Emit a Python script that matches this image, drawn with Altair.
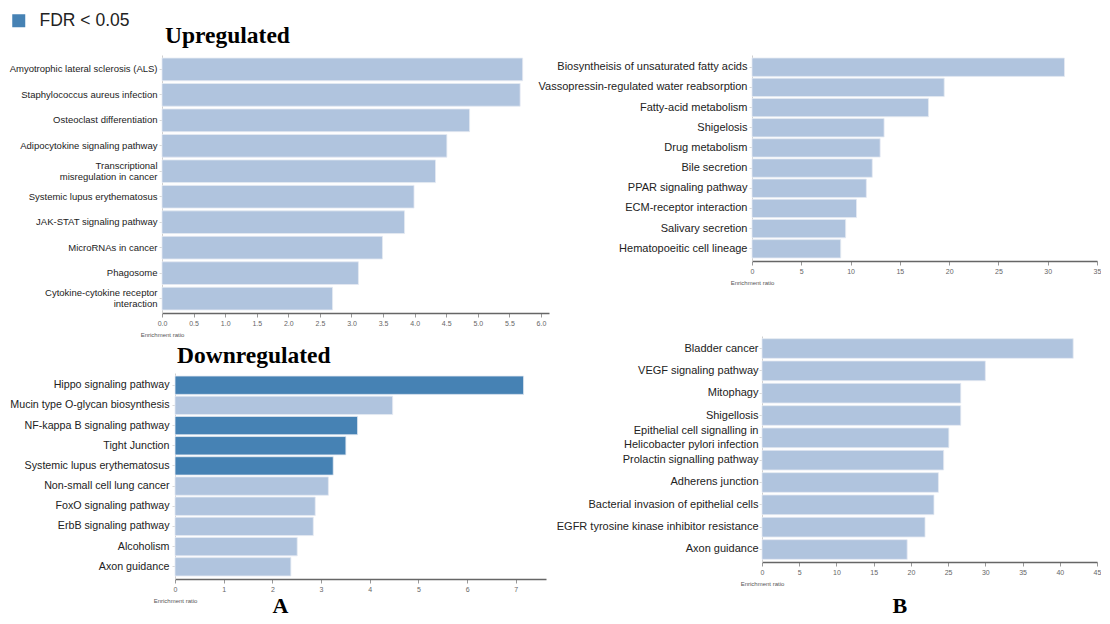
import altair as alt
import pandas as pd

SIG = "FDR < 0.05"
OTHER = "FDR >= 0.05"

# ---------------- data ----------------
a_up_terms = [
    "Amyotrophic lateral sclerosis (ALS)",
    "Staphylococcus aureus infection",
    "Osteoclast differentiation",
    "Adipocytokine signaling pathway",
    "Transcriptional\nmisregulation in cancer",
    "Systemic lupus erythematosus",
    "JAK-STAT signaling pathway",
    "MicroRNAs in cancer",
    "Phagosome",
    "Cytokine-cytokine receptor\ninteraction",
]
a_up_ratio = [5.71, 5.67, 4.87, 4.51, 4.33, 3.99, 3.84, 3.49, 3.11, 2.70]
a_up_sig = [False, False, False, False, False, False, False, False, False, False]

a_down_terms = [
    "Hippo signaling pathway",
    "Mucin type O-glycan biosynthesis",
    "NF-kappa B signaling pathway",
    "Tight Junction",
    "Systemic lupus erythematosus",
    "Non-small cell lung cancer",
    "FoxO signaling pathway",
    "ErbB signaling pathway",
    "Alcoholism",
    "Axon guidance",
]
a_down_ratio = [7.16, 4.47, 3.75, 3.51, 3.25, 3.15, 2.88, 2.84, 2.51, 2.38]
a_down_sig = [True, False, True, True, True, False, False, False, False, False]

b_up_terms = [
    "Biosyntheisis of unsaturated fatty acids",
    "Vassopressin-regulated water reabsorption",
    "Fatty-acid metabolism",
    "Shigelosis",
    "Drug metabolism",
    "Bile secretion",
    "PPAR signaling pathway",
    "ECM-receptor interaction",
    "Salivary secretion",
    "Hematopoeitic cell lineage",
]
b_up_ratio = [31.7, 19.5, 17.9, 13.4, 13.0, 12.2, 11.6, 10.6, 9.5, 9.0]
b_up_sig = [False, False, False, False, False, False, False, False, False, False]

b_down_terms = [
    "Bladder cancer",
    "VEGF signaling pathway",
    "Mitophagy",
    "Shigellosis",
    "Epithelial cell signalling in\nHelicobacter pylori infection",
    "Prolactin signalling pathway",
    "Adherens junction",
    "Bacterial invasion of epithelial cells",
    "EGFR tyrosine kinase inhibitor resistance",
    "Axon guidance",
]
b_down_ratio = [41.8, 30.0, 26.7, 26.7, 25.1, 24.4, 23.7, 23.1, 21.9, 19.5]
b_down_sig = [False, False, False, False, False, False, False, False, False, False]

a_up_ticks = [0.0, 0.5, 1.0, 1.5, 2.0, 2.5, 3.0, 3.5, 4.0, 4.5, 5.0, 5.5, 6.0]
a_down_ticks = [0, 1, 2, 3, 4, 5, 6, 7]
b_up_ticks = [0, 5, 10, 15, 20, 25, 30, 35]
b_down_ticks = [0, 5, 10, 15, 20, 25, 30, 35, 40, 45]

FONT = "Liberation Sans"
SERIF = "Liberation Serif"


def frame(terms, ratios, sig):
    return pd.DataFrame({
        "term": terms,
        "ratio": ratios,
        "fdr": [SIG if s else OTHER for s in sig],
    })


color = alt.Color(
    "fdr:N",
    scale=alt.Scale(domain=[SIG, OTHER], range=["#4682b4", "#b0c4de"]),
    legend=alt.Legend(
        title=None, values=[SIG], orient="none", legendX=-152, legendY=-43,
        symbolType="square", symbolSize=169, symbolStrokeWidth=0,
        labelFontSize=17.5, labelFont=FONT, labelColor="#222",
        labelOffset=12, padding=0,
    ),
)


def panel(df, terms, *, width, height, xdomain, xvalues, xfmt, label_size,
          label_pad, line_h, pad_inner, pad_outer, xrange=None, yrange=None,
          y_offset=0, ytitle=None, title=None):
    x0 = xrange[0] if xrange else 0
    xscale = dict(domain=xdomain, nice=False, zero=True)
    if xrange:
        xscale["range"] = xrange
    yscale = dict(paddingInner=pad_inner, paddingOuter=pad_outer)
    if yrange:
        yscale["range"] = yrange
    xaxis = alt.Axis(
        values=xvalues, format=xfmt, title="Enrichment ratio",
        titleX=x0, titleY=21, titleAlign="center", titleBaseline="middle",
        titleAngle=0, titleFont=FONT, titleFontSize=6, titleFontWeight="normal",
        titleColor="#555", labelFont=FONT, labelFontSize=7, labelColor="#666",
        labelPadding=2, tickSize=4, tickColor="#999", domainColor="#666",
        domainWidth=1.5, grid=False, labelFlush=False,
    )
    yaxis_kw = dict(
        labelFont=FONT, labelFontSize=label_size, labelColor="#222",
        labelLimit=340, labelLineHeight=line_h,
        labelExpr="split(datum.label, '\\n')", labelPadding=label_pad,
        labelOffset=alt.condition(
            "indexof(datum.value, '\\n') >= 0",
            alt.value(-line_h / 2.0), alt.value(0)),
        domainColor="#cfcfcf", domainWidth=1, tickColor="#d8d8d8", tickSize=3,
        grid=False, offset=y_offset,
    )
    if ytitle:
        yaxis_kw.update(
            title=ytitle["text"], titleX=ytitle["x"], titleY=ytitle["y"],
            titleAngle=0, titleAlign="left", titleBaseline="alphabetic",
            titleFont=SERIF, titleFontSize=ytitle["size"], titleFontWeight="bold",
            titleColor="#000",
        )
    else:
        yaxis_kw["title"] = None
    props = dict(width=width, height=height)
    if title:
        props["title"] = alt.TitleParams(
            text=title["text"], anchor="start", frame="group", dx=title["dx"],
            offset=title["offset"], font=SERIF, fontSize=title["size"],
            fontWeight="bold", color="#000",
        )
    return alt.Chart(df).mark_bar(stroke="#e4eaf3", strokeWidth=0.8).encode(
        x=alt.X("ratio:Q", scale=alt.Scale(**xscale), axis=xaxis),
        y=alt.Y("term:N", sort=terms, scale=alt.Scale(**yscale),
                axis=alt.Axis(**yaxis_kw)),
        color=color,
    ).properties(**props)


a_up = panel(
    frame(a_up_terms, a_up_ratio, a_up_sig), a_up_terms,
    width=387, height=258, xdomain=[0, 6.127], xvalues=a_up_ticks, xfmt=".1f",
    label_size=9.5, label_pad=2, line_h=11, pad_inner=0.11, pad_outer=0.12,
    title={"text": "Upregulated", "dx": 3, "offset": 8, "size": 23.5},
)
b_up = panel(
    frame(b_up_terms, b_up_ratio, b_up_sig), b_up_terms,
    width=345, height=206, xdomain=[0, 35], xvalues=b_up_ticks, xfmt="d",
    label_size=11, label_pad=2, line_h=13, pad_inner=0.09, pad_outer=0.15,
)
a_down = panel(
    frame(a_down_terms, a_down_ratio, a_down_sig), a_down_terms,
    width=387, height=206, xdomain=[0, 7.62], xvalues=a_down_ticks, xfmt="d",
    xrange=[13, 384], y_offset=-13,
    label_size=10.7, label_pad=3, line_h=12, pad_inner=0.09, pad_outer=0.15,
    title={"text": "Downregulated", "dx": 15, "offset": 6, "size": 23.5},
    ytitle={"text": "A", "x": 97, "y": 239, "size": 22},
)
b_down = panel(
    frame(b_down_terms, b_down_ratio, b_down_sig), b_down_terms,
    width=345, height=189, xdomain=[0, 45], xvalues=b_down_ticks, xfmt="d",
    xrange=[10, 345], yrange=[-37, 189], y_offset=-10,
    label_size=11, label_pad=1, line_h=14, pad_inner=0.12, pad_outer=0.12,
    ytitle={"text": "B", "x": 130, "y": 239, "size": 22},
)

chart = alt.concat(
    a_up, b_up, a_down, b_down,
    columns=2, spacing={"row": 60, "column": 203},
).properties(
    bounds="flush", align="none",
    padding={"left": 1, "top": 4, "right": 0, "bottom": 0},
).configure_view(strokeWidth=0)

chart.save("out.html", embed_options={"renderer": "svg", "actions": False})
